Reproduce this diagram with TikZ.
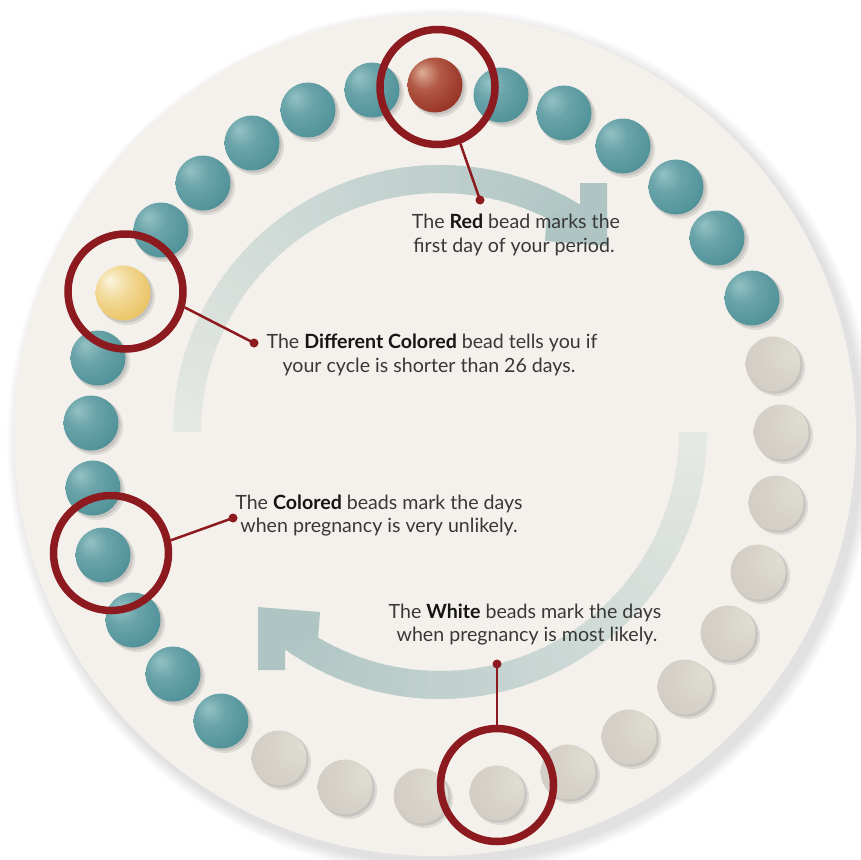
\documentclass[tikz,border=0pt]{standalone}
\usepackage{fontspec}
\setmainfont{Lato}
\definecolor{bgc}{HTML}{F4F1EC}
\definecolor{bandc}{HTML}{AEC5C3}
\definecolor{ringc}{HTML}{8C1A1F}
\definecolor{txtc}{HTML}{383838}
\definecolor{boldc}{HTML}{151515}
\definecolor{teal1}{HTML}{93C1C4}
\definecolor{teal2}{HTML}{6AA4AA}
\definecolor{teal3}{HTML}{52939A}
\definecolor{teal4}{HTML}{3D7C85}
\definecolor{red1}{HTML}{DDAE98}
\definecolor{red2}{HTML}{B25A45}
\definecolor{red3}{HTML}{993628}
\definecolor{red4}{HTML}{7A1F17}
\definecolor{yel1}{HTML}{FBF4DE}
\definecolor{yel2}{HTML}{F2DB9C}
\definecolor{yel3}{HTML}{EBC567}
\definecolor{yel4}{HTML}{DCAD48}
\definecolor{wht1}{HTML}{E0DED3}
\definecolor{wht2}{HTML}{C8C0BA}
\pgfdeclareradialshading{tealball}{\pgfpoint{-12bp}{12bp}}{color(0bp)=(teal1); color(14bp)=(teal2); color(32bp)=(teal3); color(54bp)=(teal4); color(70bp)=(teal4)}
\pgfdeclareradialshading{redball}{\pgfpoint{-12bp}{12bp}}{color(0bp)=(red1); color(14bp)=(red2); color(32bp)=(red3); color(54bp)=(red4); color(70bp)=(red4)}
\pgfdeclareradialshading{yelball}{\pgfpoint{-12bp}{12bp}}{color(0bp)=(yel1); color(14bp)=(yel2); color(32bp)=(yel3); color(54bp)=(yel4); color(70bp)=(yel4)}
\pgfdeclareradialshading{whtball}{\pgfpoint{22bp}{12bp}}{color(0bp)=(wht1); color(25bp)=(wht1!60!wht2); color(70bp)=(wht2); color(80bp)=(wht2)}
\begin{document}
\begin{tikzpicture}[x=1pt,y=-1pt,
  bead/.style={circle, minimum size=55pt, inner sep=0pt, outer sep=0pt},
  ring/.style={circle, draw=ringc, line width=7.5pt, minimum size=115pt, inner sep=0pt},
  dotnode/.style={circle, fill=ringc, minimum size=9pt, inner sep=0pt},
  leader/.style={draw=ringc, line width=2.5pt},
  txt/.style={anchor=base, inner sep=0pt, text=txtc, font=\fontsize{19.6}{23}\selectfont},
  arrowhead/.style={fill=bandc}]
\useasboundingbox (0,0) rectangle (861,859);
\fill[white] (0,0) rectangle (861,859);
% soft shadow of the disc
\foreach \k in {1,...,10}{
  \fill[black, opacity=0.013] (441,442) circle[radius=421+1.3*\k];
}
\fill[bgc] (435,435) circle[radius=421];
% cycle arrows
\foreach \i in {0,...,59}{
  \pgfmathsetmacro\aa{180+\i*126/60}
  \pgfmathsetmacro\bb{\aa+126/60+0.6}
  \pgfmathtruncatemacro\pp{20+80*\i/59}
  \draw[line width=28pt, color=bandc!\pp!bgc] plot[domain=\aa:\bb, samples=4] ({440+253*cos(\x)},{432+253*sin(\x)});
}
\foreach \i in {0,...,59}{
  \pgfmathsetmacro\aa{0+\i*130/60}
  \pgfmathsetmacro\bb{\aa+130/60+0.6}
  \pgfmathtruncatemacro\pp{20+80*\i/59}
  \draw[line width=28pt, color=bandc!\pp!bgc] plot[domain=\aa:\bb, samples=4] ({440+253*cos(\x)},{432+253*sin(\x)});
}
\fill[arrowhead] (607,246) -- (545,241) -- (547,214) -- (580,214) -- (580,183) -- (607,183) -- cycle;
\fill[arrowhead] (258,607) -- (320,612) -- (318,639) -- (285,639) -- (285,670) -- (258,670) -- cycle;
% beads
\foreach \x/\y/\t [count=\i] in {435/85/redball, 501/95/tealball, 564/113/tealball, 623/146/tealball,
  676/187/tealball, 717/238/tealball, 752/298/tealball, 773/364/whtball, 781/432/whtball,
  776/503/whtball, 758/572/whtball, 728/633/whtball, 685/687/whtball, 629/737/whtball,
  568/772/whtball, 497/793/whtball, 421/796/whtball, 345/787/whtball, 279/758/whtball,
  221/721/tealball, 173/674/tealball, 133/620/tealball, 103/555/tealball, 93/488/tealball,
  91/423/tealball, 98/358/tealball, 123/293/yelball, 161/230/tealball, 203/183/tealball,
  252/143/tealball, 308/110/tealball, 372/90/tealball}{
  \fill[black, opacity=0.09] (\x+3.5,\y+3.5) circle[radius=28.5];
  \fill[black, opacity=0.10] (\x+2,\y+2) circle[radius=27.8];
  \node[bead, shade, shading=\t] (b\i) at (\x,\y) {};
}
% texts
\node[txt] (t1a) at (516,228) {The \textbf{\color{boldc}Red} bead marks the};
\node[txt] (t1b) at (514,252) {first day of your period.};
\node[txt] (t2a) at (432,348) {The \textbf{\color{boldc}Different Colored} bead tells you if};
\node[txt] (t2b) at (429,372) {your cycle is shorter than 26 days.};
\node[txt] (t3a) at (379,509) {The \textbf{\color{boldc}Colored} beads mark the days};
\node[txt] (t3b) at (379,532) {when pregnancy is very unlikely.};
\node[txt] (t4a) at (525,618) {The \textbf{\color{boldc}White} beads mark the days};
\node[txt] (t4b) at (527,641) {when pregnancy is most likely.};
% rings
\node[ring] (r1) at (437.5,87) {};
\node[ring] (r2) at (125.5,291.5) {};
\node[ring] (r3) at (111,553) {};
\node[ring, minimum size=113pt] (r4) at (497,785) {};
% leaders
\node[dotnode] (d1) at (480,200) {};
\node[dotnode] (d2) at (254,343) {};
\node[dotnode] (d3) at (233,518) {};
\node[dotnode] (d4) at (497,664) {};
\draw[leader] (r1.-68) -- (d1.center);
\draw[leader] (r2.-15) -- (d2.center);
\draw[leader] (r3.12) -- (d3.center);
\draw[leader] (r4.90) -- (d4.center);
\end{tikzpicture}
\end{document}
